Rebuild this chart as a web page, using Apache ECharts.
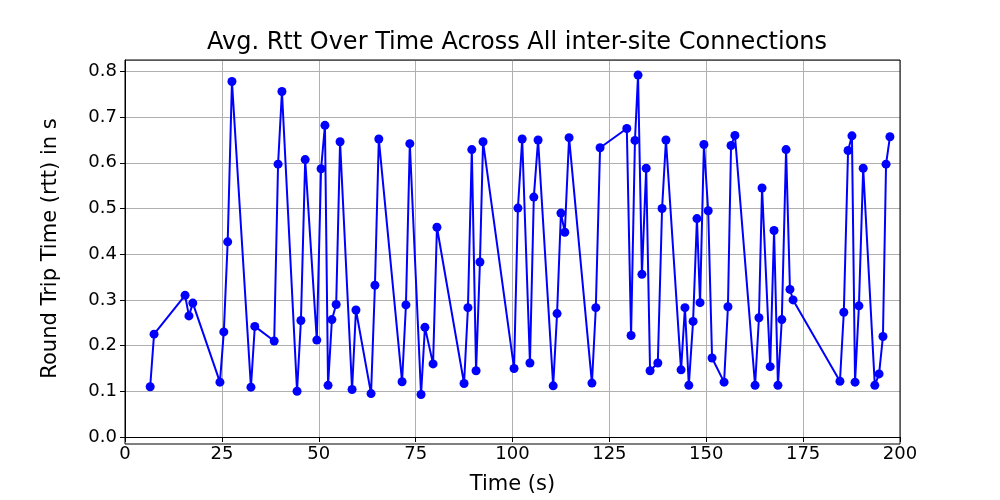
<!DOCTYPE html>
<html><head><meta charset="utf-8">
<script src="https://cdn.jsdelivr.net/npm/echarts@6/dist/echarts.min.js"></script>
<style>html,body{margin:0;background:#fff}#c{width:1000px;height:500px}</style>
</head><body><div id="c"></div>
<script>
const times = [6.5,7.5,15.5,16.5,17.5,24.5,25.5,26.5,27.6,32.5,33.5,38.5,39.5,40.5,44.4,45.4,46.5,49.5,50.6,51.6,52.4,53.4,54.5,55.5,58.6,59.6,63.5,64.5,65.5,71.5,72.5,73.5,76.4,77.4,79.5,80.5,87.5,88.5,89.5,90.6,91.6,92.4,100.4,101.4,102.5,104.5,105.5,106.6,110.5,111.5,112.5,113.5,114.6,120.5,121.5,122.6,129.5,130.6,131.6,132.4,133.4,134.5,135.5,137.5,138.6,139.6,143.5,144.5,145.5,146.6,147.6,148.4,149.4,150.5,151.5,154.6,155.6,156.4,157.4,162.6,163.6,164.4,166.5,167.5,168.5,169.5,170.6,171.6,172.4,184.5,185.5,186.6,187.6,188.4,189.4,190.5,193.5,194.6,195.6,196.4,197.4];
const rtts = [0.11,0.225,0.31,0.265,0.293,0.12,0.23,0.427,0.778,0.109,0.242,0.21,0.597,0.756,0.1,0.255,0.607,0.212,0.587,0.682,0.113,0.257,0.29,0.646,0.104,0.278,0.095,0.332,0.652,0.121,0.289,0.642,0.093,0.24,0.16,0.459,0.117,0.283,0.629,0.145,0.383,0.646,0.15,0.501,0.652,0.162,0.525,0.65,0.112,0.27,0.49,0.448,0.655,0.118,0.283,0.633,0.675,0.222,0.649,0.792,0.356,0.588,0.145,0.162,0.5,0.65,0.147,0.283,0.113,0.253,0.478,0.294,0.64,0.495,0.173,0.12,0.285,0.638,0.66,0.113,0.261,0.545,0.154,0.452,0.113,0.257,0.629,0.323,0.3,0.122,0.273,0.627,0.659,0.12,0.287,0.588,0.113,0.138,0.22,0.597,0.657];
const chart = echarts.init(document.getElementById('c'));
const F = 'DejaVu Sans';
chart.setOption({
  animation:false,
  title:{text:'Avg. Rtt Over Time Across All inter-site Connections',left:512,top:26,textAlign:'center',textStyle:{fontFamily:F,fontSize:24,fontWeight:'normal',color:'#000'}},
  grid:{left:125,right:100,top:60,bottom:56},
  xAxis:{type:'value',min:0,max:200,interval:25,name:'Time (s)',nameLocation:'middle',nameGap:37,
    nameTextStyle:{fontFamily:F,fontSize:21,color:'#000'},
    axisLine:{show:true,lineStyle:{color:'#000'}},axisTick:{show:true,length:5,lineStyle:{color:'#000'}},
    axisLabel:{fontFamily:F,fontSize:18,color:'#000',margin:8},
    splitLine:{show:true,lineStyle:{color:'#b0b0b0'}}},
  yAxis:{type:'value',min:0,max:0.825,interval:0.1,name:'Round Trip Time (rtt) in s',nameLocation:'middle',nameGap:64,
    nameTextStyle:{fontFamily:F,fontSize:21,color:'#000'},
    axisLine:{show:true,lineStyle:{color:'#000'}},axisTick:{show:true,length:5,lineStyle:{color:'#000'}},
    axisLabel:{fontFamily:F,fontSize:18,color:'#000',formatter:v=>v.toFixed(1),showMaxLabel:false},
    splitLine:{show:true,lineStyle:{color:'#b0b0b0'}}},
  series:[{type:'line',data:times.map((t,i)=>[t,rtts[i]]),symbol:'circle',symbolSize:9,
    itemStyle:{color:'#0000ff'},lineStyle:{color:'#0000ff',width:2}}]
});
chart.setOption({graphic:[{type:'rect',shape:{x:125,y:60,width:775,height:384},style:{fill:'none',stroke:'#000',lineWidth:1},silent:true}]});
</script></body></html>
